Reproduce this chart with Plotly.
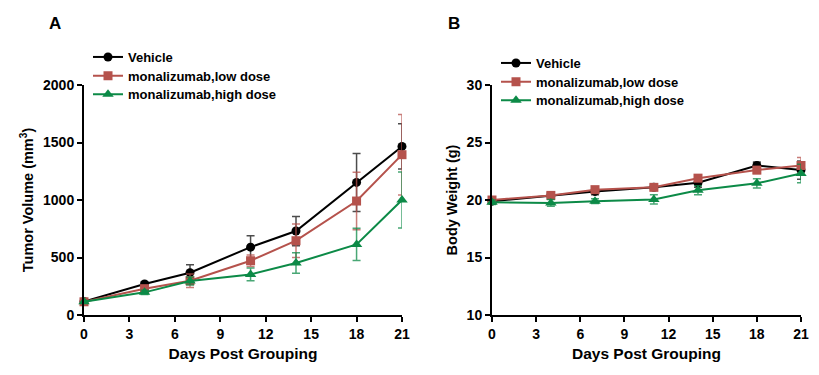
import plotly.graph_objects as go

days = [0, 4, 7, 11, 14, 18, 21]
series_names = ["Vehicle", "monalizumab,low dose", "monalizumab,high dose"]

# Panel A: tumor volume (mm^3)
vol_vehicle = [118, 270, 368, 590, 730, 1153, 1466]
vol_vehicle_err = [15, 20, 70, 100, 127, 252, 197]
vol_low = [115, 229, 298, 472, 646, 991, 1394]
vol_low_err = [12, 20, 58, 50, 145, 250, 350]
vol_high = [115, 197, 296, 353, 452, 614, 1000]
vol_high_err = [12, 18, 35, 55, 90, 140, 244]

# Panel B: body weight (g)
bw_vehicle = [19.9, 20.4, 20.75, 21.1, 21.5, 23.0, 22.6]
bw_vehicle_err = [0.2, 0.2, 0.3, 0.2, 0.4, 0.3, 0.8]
bw_low = [20.0, 20.4, 20.9, 21.1, 21.9, 22.6, 23.0]
bw_low_err = [0.2, 0.2, 0.2, 0.2, 0.2, 0.3, 0.7]
bw_high = [19.8, 19.75, 19.9, 20.05, 20.85, 21.45, 22.3]
bw_high_err = [0.2, 0.3, 0.2, 0.4, 0.4, 0.4, 0.8]

x_ticks = [0, 3, 6, 9, 12, 15, 18, 21]
a_ticks = [0, 500, 1000, 1500, 2000]
b_ticks = [10, 15, 20, 25, 30]

colors = ["#000000", "#B5524C", "#0C8A47"]
err_colors = ["rgba(0,0,0,0.7)", "rgba(181,82,76,0.75)", "rgba(12,138,71,0.75)"]
symbols = ["circle", "square", "triangle-up"]

OFF = 8  # page body margin
W, H = 819 - OFF, 375 - OFF
FONT = "Liberation Sans, Arial, sans-serif"

def px_x(p):
    return (p - OFF) / W

def px_y(p):
    return 1 - (p - OFF) / H

fig = go.Figure()

legend_pos = [(88, 57), (496, 63)]
row_step = 18.7

panels = [
    ("x", "y", [vol_vehicle, vol_low, vol_high], [vol_vehicle_err, vol_low_err, vol_high_err]),
    ("x2", "y2", [bw_vehicle, bw_low, bw_high], [bw_vehicle_err, bw_low_err, bw_high_err]),
]
legend_layouts = {}
for p, (xa, ya, vals, errs) in enumerate(panels):
    for i in range(3):
        n = p * 3 + i + 1
        lg = "legend" if n == 1 else f"legend{n}"
        fig.add_trace(go.Scatter(
            x=days, y=vals[i], name=series_names[i], mode="lines+markers",
            xaxis=xa, yaxis=ya, legend=lg, cliponaxis=False,
            line=dict(color=colors[i], width=2),
            marker=dict(symbol=symbols[i], size=9 if i < 2 else 10, color=colors[i]),
            error_y=dict(type="data", array=errs[i], visible=True, color=err_colors[i],
                         thickness=1.5, width=4),
        ))
        lx, ly = legend_pos[p]
        legend_layouts[lg] = dict(
            x=px_x(lx), y=px_y(ly + i * row_step), xanchor="left", yanchor="middle",
            bgcolor="rgba(0,0,0,0)", itemwidth=30,
            font=dict(family=FONT, size=13, color="black", weight="bold"),
        )

axis_common = dict(
    showline=True, linecolor="black", linewidth=2, ticks="outside", ticklen=5,
    tickwidth=2, tickcolor="black", showgrid=False, zeroline=False, automargin=False,
    tickfont=dict(family=FONT, size=14, color="black", weight="bold"),
)
xtitle_font = dict(family=FONT, size=15.5, color="black", weight="bold")
ytitle_font = dict(family=FONT, size=14.5, color="black", weight="bold")

fig.update_layout(
    width=W, height=H, margin=dict(l=0, r=0, t=0, b=0, autoexpand=False),
    paper_bgcolor="white", plot_bgcolor="white",
    font=dict(family=FONT, color="black"),
    xaxis=dict(domain=[px_x(84), px_x(402)], range=[0, 21], tickvals=x_ticks, anchor="y",
               title=dict(text="Days Post Grouping", standoff=7, font=xtitle_font), **axis_common),
    yaxis=dict(domain=[px_y(315), px_y(85)], range=[0, 2000], tickvals=a_ticks, anchor="x",
               title=dict(text="Tumor Volume (mm<sup>3</sup>)", standoff=6, font=ytitle_font), **axis_common),
    xaxis2=dict(domain=[px_x(492), px_x(801)], range=[0, 21], tickvals=x_ticks, anchor="y2",
                title=dict(text="Days Post Grouping", standoff=7, font=xtitle_font), **axis_common),
    yaxis2=dict(domain=[px_y(315), px_y(85)], range=[10, 30], tickvals=b_ticks, anchor="x2",
                title=dict(text="Body Weight (g)", standoff=6, font=ytitle_font), **axis_common),
    showlegend=True,
    annotations=[
        dict(text="A", x=px_x(55), y=px_y(23), xref="paper", yref="paper", showarrow=False,
             xanchor="center", yanchor="middle",
             font=dict(family=FONT, size=17, color="black", weight="bold")),
        dict(text="B", x=px_x(454), y=px_y(23), xref="paper", yref="paper", showarrow=False,
             xanchor="center", yanchor="middle",
             font=dict(family=FONT, size=17, color="black", weight="bold")),
    ],
    **legend_layouts,
)

fig.write_html("out.html")
